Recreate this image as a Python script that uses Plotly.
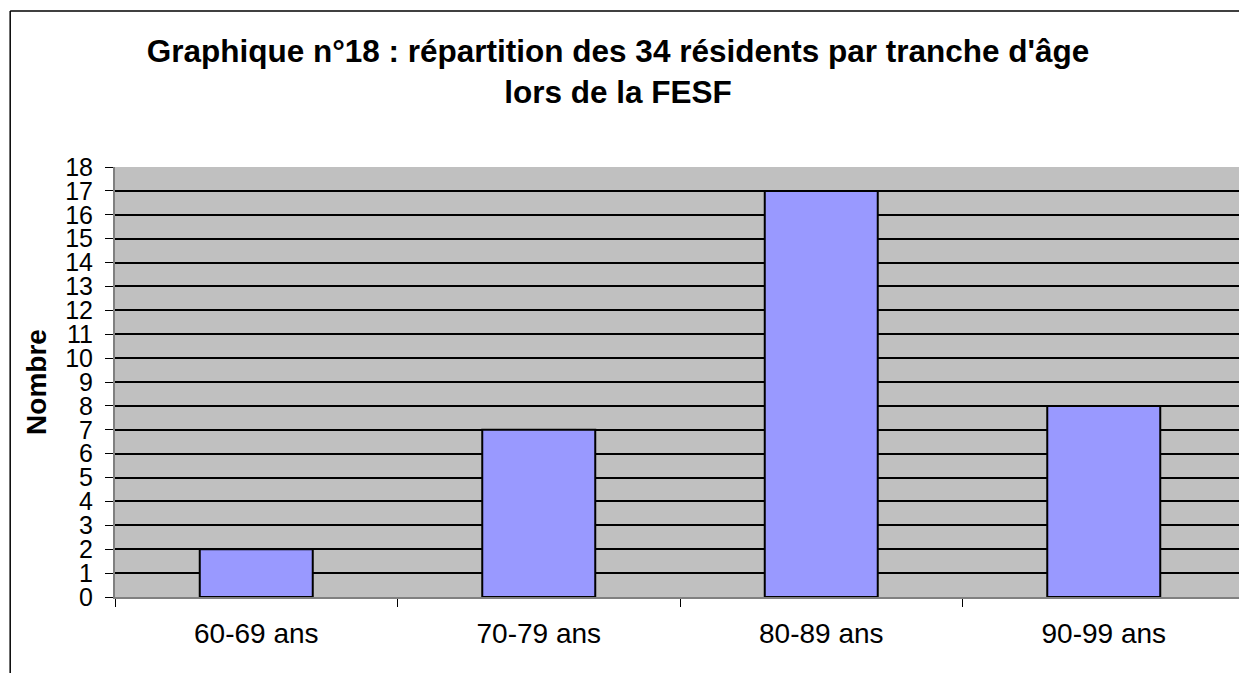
import plotly.graph_objects as go

categories = ["60-69 ans", "70-79 ans", "80-89 ans", "90-99 ans"]
values = [2, 7, 17, 8]
y_ticks = list(range(0, 19))

title_text = "<b>Graphique n°18 : répartition des 34 résidents par tranche d'âge<br>lors de la FESF</b>"
y_title = "<b>Nombre</b>"

FONT = "Liberation Sans, Arial, sans-serif"

fig = go.Figure(
    go.Bar(
        x=categories,
        y=values,
        marker=dict(color="#9999FF", line=dict(color="black", width=2)),
    )
)

# the page body adds an 8px offset, so the figure is sized/positioned to compensate
W, H = 1239, 665
ml, mr, mt, mb = 107, 0, 159, 76
PW, PH = W - ml - mr, H - mt - mb

fig.update_layout(
    width=W,
    height=H,
    margin=dict(l=ml, r=mr, t=mt, b=mb, pad=0),
    paper_bgcolor="white",
    plot_bgcolor="#C0C0C0",
    bargap=0.6,
    showlegend=False,
    font=dict(family=FONT, color="black"),
    title=dict(
        text=title_text,
        x=610 / W,
        xanchor="center",
        y=1 - 54 / H,
        yanchor="middle",
        font=dict(family=FONT, size=31.5, color="black"),
    ),
)

fig.update_xaxes(
    type="category",
    range=[-0.5, 3.5],
    showgrid=False,
    showline=True,
    linecolor="#808080",
    linewidth=2,
    ticks="outside",
    tickson="boundaries",
    ticklen=8,
    tickcolor="black",
    tickfont=dict(family=FONT, size=28, color="black"),
    ticklabelstandoff=10,
)

fig.update_yaxes(
    range=[0, 18],
    tickmode="array",
    tickvals=y_ticks,
    ticktext=[str(v) for v in y_ticks],
    showgrid=True,
    gridcolor="black",
    gridwidth=1.5,
    zeroline=False,
    showline=True,
    linecolor="#808080",
    linewidth=2,
    mirror=True,
    ticks="outside",
    ticklen=8,
    tickcolor="black",
    tickfont=dict(family=FONT, size=25, color="black"),
    ticklabelstandoff=7,
    title=dict(text=y_title, font=dict(family=FONT, size=28, color="black"), standoff=10),
)

# outer chart border (top and left edges visible in the crop)
bx = (2 - ml) / PW
by = 1 + (mt - 3) / PH
fig.add_shape(type="line", xref="paper", yref="paper",
              x0=bx, x1=(W + 5 - ml) / PW, y0=by, y1=by,
              line=dict(color="black", width=1.5), layer="above")
fig.add_shape(type="line", xref="paper", yref="paper",
              x0=bx, x1=bx, y0=by, y1=-(mb + 5) / PH,
              line=dict(color="black", width=1.5), layer="above")

fig.write_html("out.html")
